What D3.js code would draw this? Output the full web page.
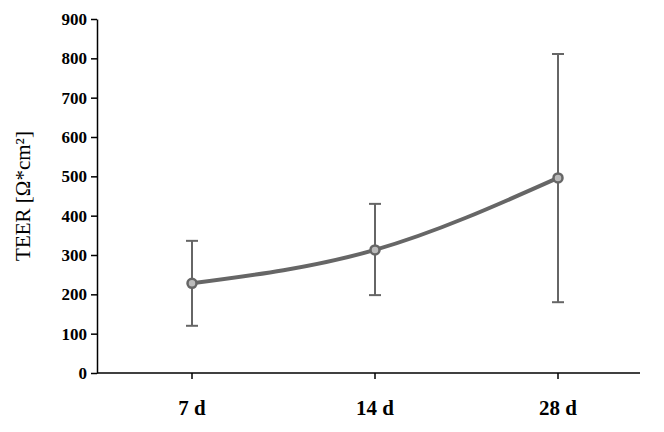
<!DOCTYPE html>
<html><head><meta charset="utf-8">
<script src="https://cdn.jsdelivr.net/npm/d3@7"></script>
<style>body{margin:0;background:#fff}</style></head>
<body><svg id="c" width="664" height="432"></svg>
<script>
const categories=["7 d","14 d","28 d"];
const means=[228,313,496];
const upper=[336,430,811];
const lower=[120,198,180];
const yTicks=[0,100,200,300,400,500,600,700,800,900];

const svg=d3.select("#c");
const x=d3.scalePoint().domain(categories).range([192,558]);
const y=d3.scaleLinear().domain([0,900]).range([373,19]);
const col="#666666";
const font="'Liberation Serif','DejaVu Serif',serif";

const ya=svg.append("g").attr("transform","translate(97,0)").call(d3.axisLeft(y).tickValues(yTicks).tickSize(6).tickSizeOuter(0));
ya.select(".domain").attr("stroke","#000").attr("stroke-width",1.5);
ya.selectAll("line").attr("stroke","#000").attr("stroke-width",1.5);
ya.selectAll("text").attr("font-family",font).attr("font-weight","bold").attr("font-size",17).attr("fill","#000").attr("x",-10);

svg.append("line").attr("x1",97).attr("x2",640).attr("y1",y(0)).attr("y2",y(0)).attr("stroke","#000").attr("stroke-width",1.5);
categories.forEach(c=>{
  svg.append("line").attr("x1",x(c)).attr("x2",x(c)).attr("y1",y(0)).attr("y2",y(0)+6).attr("stroke","#000").attr("stroke-width",1.5);
  svg.append("text").attr("x",x(c)).attr("y",415).attr("text-anchor","middle").attr("font-family",font).attr("font-weight","bold").attr("font-size",21).text(c);
});

svg.append("text").attr("transform","translate(30,196) rotate(-90)").attr("text-anchor","middle").attr("font-family",font).attr("font-size",21).text("TEER [Ω*cm²]");

categories.forEach((c,i)=>{
  const g=svg.append("g").attr("stroke",col).attr("stroke-width",2);
  g.append("line").attr("x1",x(c)).attr("x2",x(c)).attr("y1",y(upper[i])).attr("y2",y(lower[i]));
  g.append("line").attr("x1",x(c)-6).attr("x2",x(c)+6).attr("y1",y(upper[i])).attr("y2",y(upper[i]));
  g.append("line").attr("x1",x(c)-6).attr("x2",x(c)+6).attr("y1",y(lower[i])).attr("y2",y(lower[i]));
});

const line=d3.line().x((d,i)=>x(categories[i])).y(d=>y(d)).curve(d3.curveMonotoneX);
svg.append("path").datum(means).attr("d",line).attr("fill","none").attr("stroke",col).attr("stroke-width",4);
svg.selectAll("circle").data(means).enter().append("circle").attr("cx",(d,i)=>x(categories[i])).attr("cy",d=>y(d)).attr("r",4.5).attr("fill","#bbb").attr("stroke",col).attr("stroke-width",2.5);
</script></body></html>
